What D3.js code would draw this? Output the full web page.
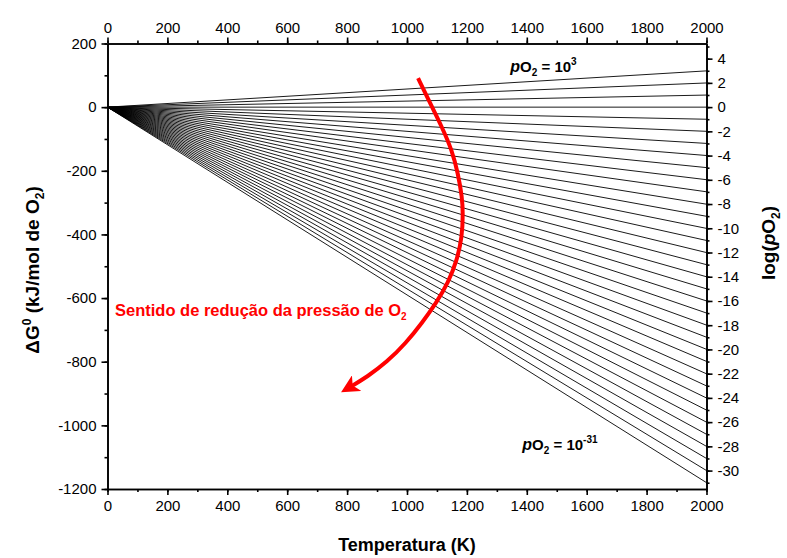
<!DOCTYPE html>
<html>
<head>
<meta charset="utf-8">
<script src="https://cdn.jsdelivr.net/npm/d3@7"></script>
<style>
  body { margin: 0; background: #fff; }
  svg { font-family: "Liberation Sans", Arial, sans-serif; }
  .axis path, .axis line { stroke: #000; stroke-width: 1.6; }
  .axis text { font-size: 15px; fill: #000; }
</style>
</head>
<body>
<script>
// temperature span of every line (K)
var temps = [0, 2000];
// log(pO2) of each line
var logPO2 = [3, 2, 1, 0, -1, -2, -3, -4, -5, -6, -7, -8, -9, -10, -11, -12, -13, -14, -15, -16,
  -17, -18, -19, -20, -21, -22, -23, -24, -25, -26, -27, -28, -29, -30, -31];
// ΔG0 at 2000 K for each line (kJ/mol O2)
var dG2000 = [114, 76, 38, 0, -38, -76, -114, -152, -190, -228, -266, -305, -343, -381, -419, -457, -495,
  -533, -571, -609, -647, -685, -723, -761, -799, -838, -876, -914, -952, -990, -1028, -1066, -1104, -1142, -1180];
var xTicks = [0, 200, 400, 600, 800, 1000, 1200, 1400, 1600, 1800, 2000];
var yTicks = [200, 0, -200, -400, -600, -800, -1000, -1200];
var rTicks = [4, 2, 0, -2, -4, -6, -8, -10, -12, -14, -16, -18, -20, -22, -24, -26, -28, -30];
// red arrow path (T in K, ΔG0 in kJ)
var arrowT = [1037, 1077, 1117, 1150, 1170, 1184, 1187, 1184, 1167, 1137, 1097, 1050, 997, 933, 866, 816];
var arrowG = [91, 13, -63, -135, -207, -283, -333, -408, -481, -553, -616, -678, -741, -801, -848, -876];

var width = 787, height = 558;
var m = {left: 107.5, right: 706.5, top: 43.5, bottom: 489};

var svg = d3.select("body").append("svg")
  .attr("width", width)
  .attr("height", height);

var x = d3.scaleLinear().domain([0, 2000]).range([m.left, m.right]);
var y = d3.scaleLinear().domain([200, -1200]).range([m.top, m.bottom]);
var yr = d3.scaleLinear().domain([5.25, -31.52]).range([m.top, m.bottom]);

// lines
var lines = logPO2.map((k, i) => ({k: k, pts: temps.map(t => [t, dG2000[i] * t / 2000])}));
var line = d3.line().x(d => x(d[0])).y(d => y(d[1]));

svg.append("g")
  .selectAll("path")
  .data(lines)
  .enter()
  .append("path")
  .attr("d", d => line(d.pts))
  .attr("fill", "none")
  .attr("stroke", "#000")
  .attr("stroke-width", 0.9);

// axes
var fmt = d => String(d);

function minor(axis, scale, step) {
  var d = scale.domain(), lo = Math.min(d[0], d[1]), hi = Math.max(d[0], d[1]);
  return axis.tickValues(d3.range(Math.ceil(lo / step) * step, hi + 1e-9, step))
    .tickFormat("").tickSize(3).tickSizeOuter(0);
}

svg.append("g").attr("class", "axis").attr("transform", `translate(0,${m.bottom})`)
  .call(minor(d3.axisBottom(x), x, 100));
svg.append("g").attr("class", "axis").attr("transform", `translate(0,${m.bottom})`)
  .call(d3.axisBottom(x).tickValues(xTicks).tickFormat(fmt).tickSize(6).tickSizeOuter(0).tickPadding(5));

svg.append("g").attr("class", "axis").attr("transform", `translate(0,${m.top})`)
  .call(minor(d3.axisTop(x), x, 100));
svg.append("g").attr("class", "axis").attr("transform", `translate(0,${m.top})`)
  .call(d3.axisTop(x).tickValues(xTicks).tickFormat(fmt).tickSize(6).tickSizeOuter(0).tickPadding(5));

svg.append("g").attr("class", "axis").attr("transform", `translate(${m.left},0)`)
  .call(minor(d3.axisLeft(y), y, 100));
svg.append("g").attr("class", "axis").attr("transform", `translate(${m.left},0)`)
  .call(d3.axisLeft(y).tickValues(yTicks).tickFormat(fmt).tickSize(6).tickSizeOuter(0).tickPadding(5));

svg.append("g").attr("class", "axis").attr("transform", `translate(${m.right},0)`)
  .call(minor(d3.axisRight(yr), yr, 1));
svg.append("g").attr("class", "axis").attr("transform", `translate(${m.right},0)`)
  .call(d3.axisRight(yr).tickValues(rTicks).tickFormat(fmt).tickSize(6).tickSizeOuter(0).tickPadding(5));

// axis titles
svg.append("text")
  .attr("x", (m.left + m.right) / 2).attr("y", 551)
  .attr("text-anchor", "middle")
  .style("font-size", "18px").style("font-weight", "bold")
  .text("Temperatura (K)");

var lt = svg.append("text")
  .attr("transform", "translate(39,270) rotate(-90)")
  .attr("text-anchor", "middle")
  .style("font-size", "19px").style("font-weight", "bold");
lt.append("tspan").text("\u0394G");
lt.append("tspan").attr("dy", -8).style("font-size", "12px").text("0");
lt.append("tspan").attr("dy", 8).text(" (kJ/mol de O");
lt.append("tspan").attr("dy", 5).style("font-size", "12px").text("2");
lt.append("tspan").attr("dy", -5).text(")");

var rt = svg.append("text")
  .attr("transform", "translate(775,243) rotate(-90)")
  .attr("text-anchor", "middle")
  .style("font-size", "19px").style("font-weight", "bold");
rt.append("tspan").text("log(");
rt.append("tspan").style("font-style", "italic").text("p");
rt.append("tspan").text("O");
rt.append("tspan").attr("dy", 5).style("font-size", "12px").text("2");
rt.append("tspan").attr("dy", -5).text(")");

// pO2 labels
function po2Label(px, py, exp) {
  var t = svg.append("text").attr("x", px).attr("y", py)
    .style("font-size", "15px").style("font-weight", "bold");
  t.append("tspan").style("font-style", "italic").style("font-size", "16px").text("p");
  t.append("tspan").text("O");
  t.append("tspan").attr("dy", 4).style("font-size", "10px").text("2");
  t.append("tspan").attr("dy", -4).text(" = 10");
  t.append("tspan").attr("dy", -7).style("font-size", "10px").text(exp);
}
po2Label(x(1345), 72, "3");
po2Label(x(1385), 450, "-31");

// red arrow
svg.append("defs").append("marker")
  .attr("id", "head")
  .attr("viewBox", "0 0 10 10")
  .attr("refX", 3).attr("refY", 5)
  .attr("markerWidth", 4.5).attr("markerHeight", 4.5)
  .attr("markerUnits", "strokeWidth")
  .attr("orient", "auto")
  .append("path")
  .attr("d", "M0,0 L10,5 L0,10 L2.5,5 Z")
  .attr("fill", "#ff0000");

svg.append("path")
  .attr("d", d3.line().x(d => x(d[0])).y(d => y(d[1])).curve(d3.curveBasis)(d3.zip(arrowT, arrowG)))
  .attr("fill", "none")
  .attr("stroke", "#ff0000")
  .attr("stroke-width", 4)
  .attr("marker-end", "url(#head)");

var red = svg.append("text").attr("x", 115).attr("y", 316)
  .attr("fill", "#ff0000")
  .style("font-size", "16.5px").style("font-weight", "bold");
red.append("tspan").text("Sentido de redução da pressão de O");
red.append("tspan").attr("dy", 4).style("font-size", "10px").text("2");
</script>
</body>
</html>
